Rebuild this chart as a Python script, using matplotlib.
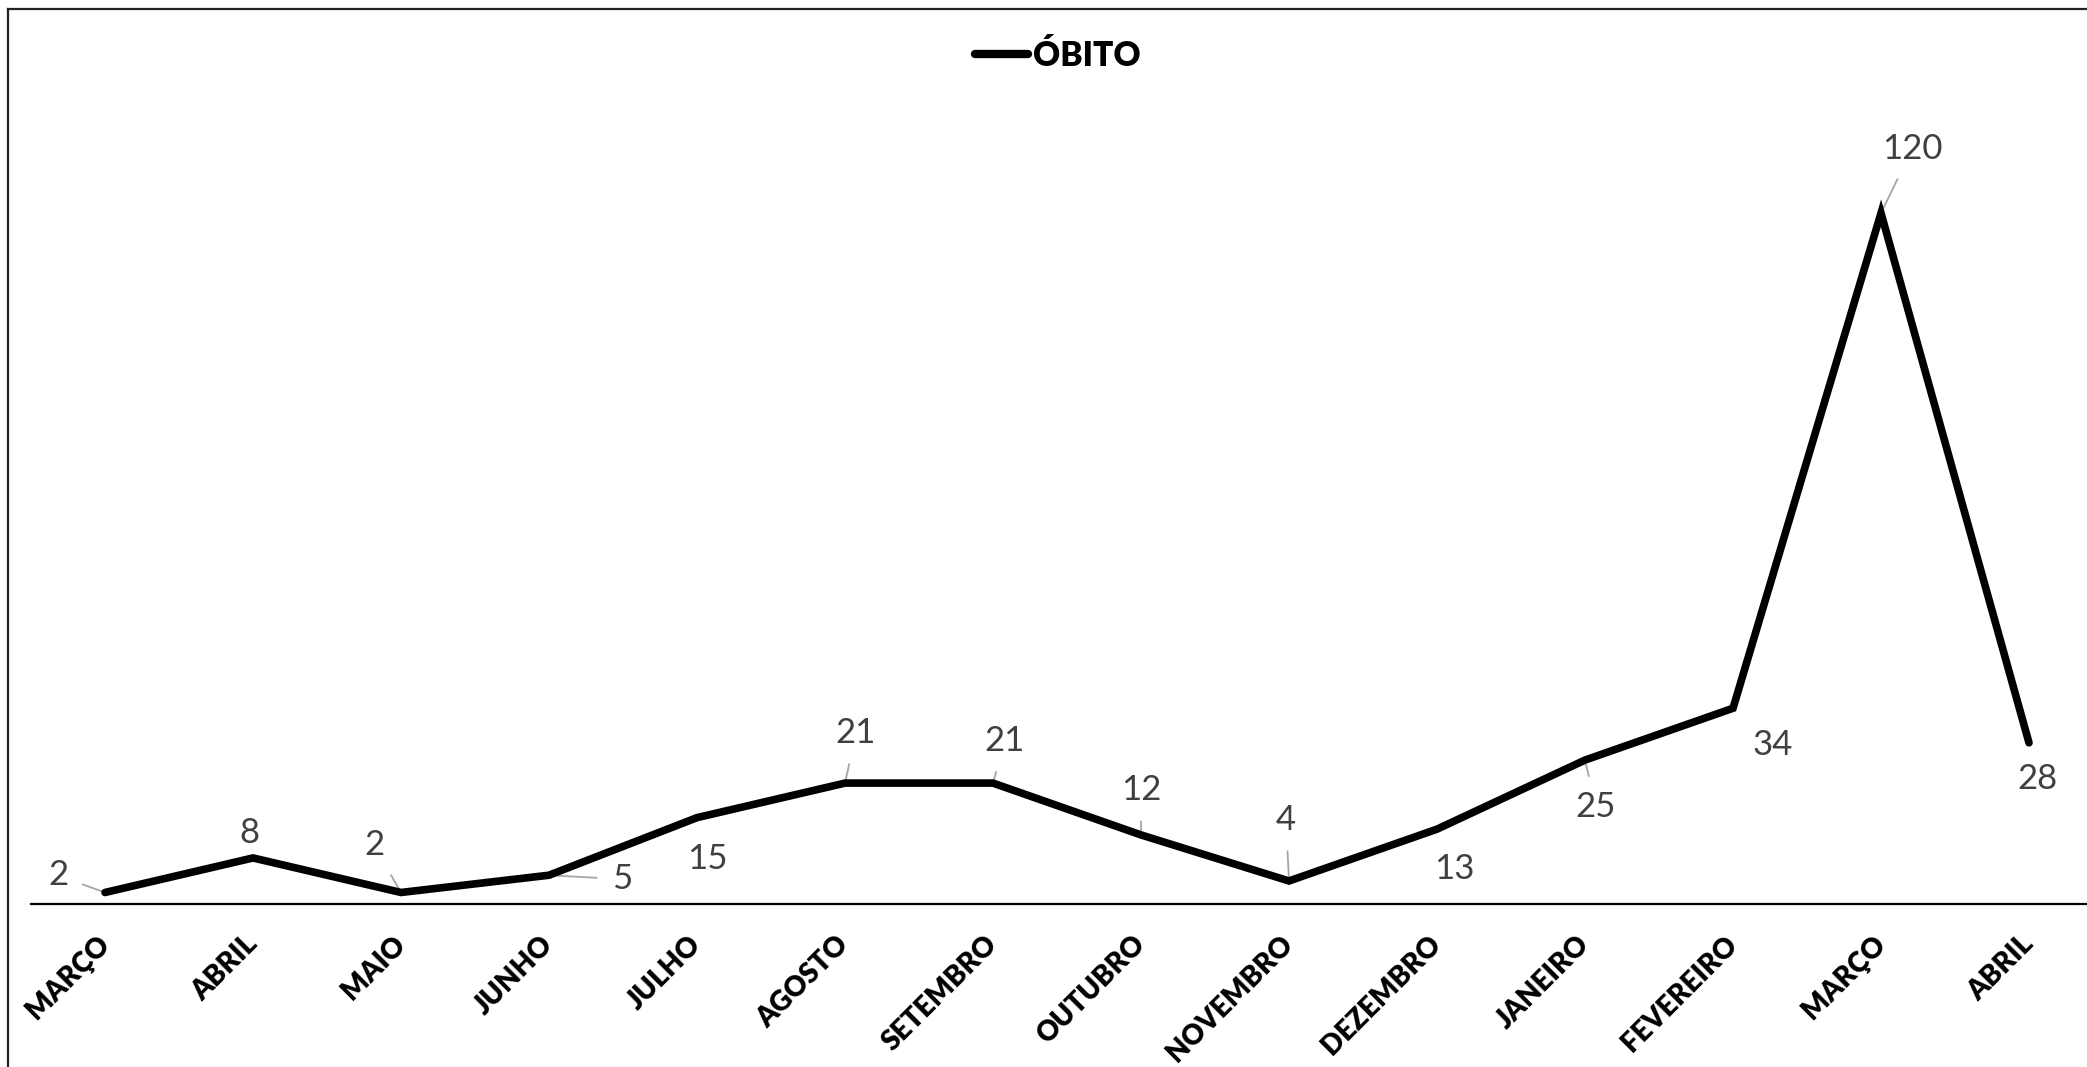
import numpy as np
import matplotlib
matplotlib.use('Agg')
import matplotlib.pyplot as plt
from matplotlib.lines import Line2D


# Data
months = ['MARÇO', 'ABRIL', 'MAIO', 'JUNHO', 'JULHO', 'AGOSTO', 'SETEMBRO',
          'OUTUBRO', 'NOVEMBRO', 'DEZEMBRO', 'JANEIRO', 'FEVEREIRO', 'MARÇO', 'ABRIL']
obitos = [2, 8, 2, 5, 15, 21, 21, 12, 4, 13, 25, 34, 120, 28]
series_name = 'ÓBITO'

# Label offsets in pixels (dx, dy) and whether a leader line is drawn
label_offsets = [(-47, 17), (-4, 25), (-27, 47), (73, -4), (10, -41), (11, 50), (12, 42),
                 (0, 45), (-3, 61), (17, -40), (11, -47), (40, -37), (31, 64), (8, -36)]
has_leader = [True, False, True, True, False, True, True,
              True, True, False, True, False, True, False]


fig = plt.figure(figsize=(20.87, 10.67), dpi=100)
ax = fig.add_axes([31 / 2087, 163 / 1067, 2072 / 2087, 806 / 1067])

x = np.arange(len(months))
ax.plot(x, obitos, color='black', linewidth=5.5, solid_joinstyle='miter',
        solid_capstyle='round', label=series_name, zorder=3)

ax.set_xlim(-0.5, len(months) - 0.5)
ax.set_ylim(0, 140)

for side in ['top', 'right', 'left']:
    ax.spines[side].set_visible(False)
ax.spines['bottom'].set_linewidth(1.6)
ax.spines['bottom'].set_color('black')
ax.set_yticks([])
ax.set_xticks(x)
ax.set_xticklabels(months, rotation=45, ha='right', va='center',
                   rotation_mode='anchor', fontsize=20, fontweight='heavy',
                   family='Lato')
ax.tick_params(axis='x', length=0, pad=26)

# Data labels
for i in range(len(obitos)):
    dx, dy = label_offsets[i]
    arrow = None
    if has_leader[i]:
        arrow = dict(arrowstyle='-', color='#a6a6a6', lw=1.3, shrinkA=9, shrinkB=0)
    ax.annotate(str(obitos[i]), xy=(x[i], obitos[i]), xytext=(dx, dy),
                textcoords='offset pixels', ha='center', va='center',
                fontsize=25, color='#404040', family='Lato', fontweight='normal',
                arrowprops=arrow, annotation_clip=False, zorder=2)

# Legend
handle = Line2D([0], [0], color='black', linewidth=6, solid_capstyle='round')
leg = fig.legend([handle], [series_name], loc='center', bbox_to_anchor=(1058 / 2087, 1 - 56 / 1067),
                 frameon=False, handlelength=1.6, handletextpad=0.15,
                 prop={'family': 'Lato', 'weight': 'heavy', 'size': 24})

# Frame of the cropped screenshot (top and left edges)
fig.add_artist(Line2D([8 / 2087, 1], [1 - 9 / 1067, 1 - 9 / 1067], color='#222222', lw=1.6))
fig.add_artist(Line2D([8 / 2087, 8 / 2087], [0, 1 - 9 / 1067], color='#222222', lw=1.6))

fig.savefig('out.png', dpi=100)
